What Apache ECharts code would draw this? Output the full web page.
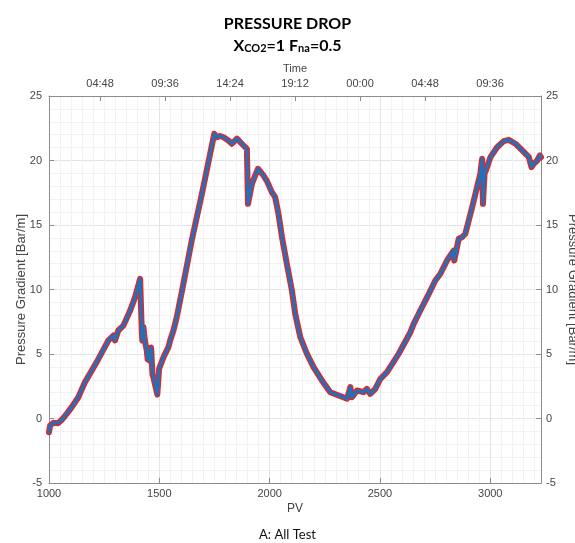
<!DOCTYPE html>
<html>
<head>
<meta charset="utf-8">
<script src="https://cdn.jsdelivr.net/npm/echarts@6/dist/echarts.min.js"></script>
<style>
  html, body { margin: 0; padding: 0; background: #ffffff; }
  #chart { width: 575px; height: 543px; }
</style>
</head>
<body>
<div id="chart"></div>
<script>
// Pore volumes injected (x) and measured pressure gradient in Bar/m (y)
const pvValues = [
  1000, 1005, 1020, 1042, 1058, 1080, 1103, 1133, 1163, 1194,
  1224, 1246, 1269, 1292, 1299, 1314, 1337, 1368, 1390, 1413,
  1416, 1419, 1421, 1423, 1428, 1432, 1436, 1443, 1447, 1451,
  1455, 1463, 1469, 1473, 1491, 1499, 1519, 1541, 1545, 1549,
  1564, 1579, 1609, 1647, 1693, 1730, 1749, 1761, 1775, 1791,
  1813, 1829, 1852, 1874, 1897, 1902, 1920, 1947, 1972, 1988,
  2010, 2025, 2040, 2056, 2078, 2101, 2116, 2139, 2169, 2199,
  2237, 2275, 2313, 2351, 2366, 2373, 2396, 2426, 2441, 2456,
  2479, 2502, 2532, 2585, 2638, 2653, 2683, 2714, 2751, 2774,
  2804, 2834, 2837, 2857, 2872, 2887, 2918, 2940, 2955, 2963,
  2967, 2974, 2983, 3001, 3031, 3061, 3084, 3114, 3145, 3175,
  3187, 3197, 3213, 3225, 3230
];
const gradientValues = [
  -1.06, -0.54, -0.33, -0.36, -0.10, 0.36, 0.88, 1.65, 2.82, 3.72,
  4.62, 5.32, 6.05, 6.43, 6.05, 6.82, 7.20, 8.37, 9.40, 10.83,
  10.95, 7.60, 6.60, 6.05, 7.10, 6.40, 5.90, 5.30, 4.60, 5.20,
  4.50, 5.50, 3.40, 3.20, 1.85, 3.85, 4.75, 5.53, 5.60, 6.05,
  6.82, 7.85, 10.44, 13.80, 17.42, 20.50, 22.07, 21.80, 21.90, 21.80,
  21.55, 21.30, 21.70, 21.30, 20.90, 16.64, 18.20, 19.36, 18.84, 18.40,
  17.55, 17.16, 15.87, 14.05, 11.99, 9.92, 8.12, 6.30, 5.02, 3.98,
  2.95, 2.04, 1.78, 1.53, 2.43, 1.65, 2.17, 2.04, 2.30, 1.91,
  2.30, 3.08, 3.59, 5.02, 6.69, 7.34, 8.37, 9.40, 10.70, 11.22,
  12.25, 13.02, 12.25, 13.93, 14.05, 14.32, 16.38, 17.93, 18.97, 20.13,
  16.64, 18.97, 19.36, 20.26, 21.03, 21.50, 21.60, 21.30, 20.78, 20.26,
  19.48, 19.74, 20.00, 20.39, 20.26
];

// Axis ticks
const pvTicks = [1000, 1500, 2000, 2500, 3000];
const gradientTicks = [-5, 0, 5, 10, 15, 20, 25];
const timeTickHours = [4.8, 9.6, 14.4, 19.2, 24, 28.8, 33.6];
const timeTickLabels = ['04:48', '09:36', '14:24', '19:12', '00:00', '04:48', '09:36'];

// Elapsed clock time (hours) spanned by the PV range
const timeStartHour = 1.03;
const timeEndHour = 37.36;

const axisGray = '#8c8c8c';
const labelGray = '#454545';
const majorGrid = '#e3e3e3';
const minorGrid = '#f2f2f2';
const axisFont = 'Liberation Sans';

const chart = echarts.init(document.getElementById('chart'), null, { renderer: 'canvas' });
const seriesData = pvValues.map((pv, i) => [pv, gradientValues[i]]);

function timeLabel(v) {
  let best = 0;
  for (let i = 1; i < timeTickHours.length; i++) {
    if (Math.abs(timeTickHours[i] - v) < Math.abs(timeTickHours[best] - v)) best = i;
  }
  return timeTickLabels[best];
}
const plainNumber = v => String(v);

const plotRect = { left: 49, right: 34, top: 96, bottom: 60, containLabel: false, outerBoundsMode: 'none' };

chart.setOption({
  animation: false,
  backgroundColor: '#ffffff',
  title: [
    {
      text: 'PRESSURE DROP',
      left: 'center',
      top: 11,
      textStyle: { fontFamily: 'Lato', fontWeight: 'bold', fontSize: 16, color: '#000' }
    },
    {
      text: '{m|X}{s|CO2}{m|=1 F}{s|na}{m|=0.5}',
      left: 'center',
      top: 29,
      textStyle: {
        rich: {
          m: { fontFamily: 'Lato', fontWeight: 'bold', fontSize: 16, color: '#000', lineHeight: 20, verticalAlign: 'bottom' },
          s: { fontFamily: 'Lato', fontWeight: 'bold', fontSize: 11, color: '#000', lineHeight: 10, verticalAlign: 'bottom' }
        }
      }
    },
    {
      text: 'A: All Test',
      left: 'center',
      top: 523,
      textStyle: { fontFamily: 'Lato', fontWeight: 'normal', fontSize: 13, color: '#111' }
    }
  ],
  grid: [
    Object.assign({}, plotRect),   // minor grid lines
    Object.assign({}, plotRect)    // data, axes and major grid lines
  ],
  xAxis: [
    {
      gridIndex: 0, type: 'value', min: 1000, max: 3230, interval: 50,
      axisLine: { show: false }, axisTick: { show: false }, axisLabel: { show: false },
      splitLine: { show: true, lineStyle: { color: minorGrid, width: 1 } }
    },
    {
      gridIndex: 1, type: 'value', position: 'bottom', min: 1000, max: 3230, interval: 500,
      name: 'PV', nameLocation: 'middle', nameGap: 20, nameMoveOverlap: false,
      nameTextStyle: { fontFamily: axisFont, fontSize: 12, color: labelGray },
      axisLine: { show: true, onZero: false, lineStyle: { color: axisGray, width: 1 } },
      axisTick: { show: true, inside: true, length: 5, lineStyle: { color: axisGray } },
      axisLabel: { fontFamily: axisFont, fontSize: 11, color: labelGray, margin: 5, showMaxLabel: false, formatter: plainNumber },
      splitLine: { show: true, lineStyle: { color: majorGrid, width: 1 } }
    },
    {
      gridIndex: 1, type: 'value', position: 'top', min: timeStartHour, max: timeEndHour,
      name: 'Time', nameLocation: 'middle', nameGap: 22, nameMoveOverlap: false,
      nameTextStyle: { fontFamily: axisFont, fontSize: 11, color: labelGray },
      axisLine: { show: true, onZero: false, lineStyle: { color: axisGray, width: 1 } },
      axisTick: { show: true, inside: true, length: 5, customValues: timeTickHours, lineStyle: { color: axisGray } },
      axisLabel: { fontFamily: axisFont, fontSize: 11, color: labelGray, margin: 7, customValues: timeTickHours, formatter: timeLabel },
      splitLine: { show: false }
    }
  ],
  yAxis: [
    {
      gridIndex: 0, type: 'value', min: -5, max: 25, interval: 1,
      axisLine: { show: false }, axisTick: { show: false }, axisLabel: { show: false },
      splitLine: { show: true, lineStyle: { color: minorGrid, width: 1 } }
    },
    {
      gridIndex: 1, type: 'value', position: 'left', min: -5, max: 25, interval: 5,
      name: 'Pressure Gradient [Bar/m]', nameLocation: 'middle', nameGap: 21, nameRotate: 90, nameMoveOverlap: false,
      nameTextStyle: { fontFamily: axisFont, fontSize: 13, color: labelGray },
      axisLine: { show: true, onZero: false, lineStyle: { color: axisGray, width: 1 } },
      axisTick: { show: true, inside: true, length: 5, lineStyle: { color: axisGray } },
      axisLabel: { fontFamily: axisFont, fontSize: 11, color: labelGray, margin: 7, customValues: gradientTicks, formatter: plainNumber },
      splitLine: { show: true, lineStyle: { color: majorGrid, width: 1 } }
    },
    {
      gridIndex: 1, type: 'value', position: 'right', min: -5, max: 25, interval: 5,
      name: 'Pressure Gradient [Bar/m]', nameLocation: 'middle', nameGap: 25, nameRotate: -90, nameMoveOverlap: false,
      nameTextStyle: { fontFamily: axisFont, fontSize: 13, color: labelGray },
      axisLine: { show: true, onZero: false, lineStyle: { color: axisGray, width: 1 } },
      axisTick: { show: true, inside: true, length: 5, lineStyle: { color: axisGray } },
      axisLabel: { fontFamily: axisFont, fontSize: 11, color: labelGray, margin: 5, customValues: gradientTicks, formatter: plainNumber },
      splitLine: { show: false }
    }
  ],
  series: [
    {
      name: 'markers', type: 'line', xAxisIndex: 1, yAxisIndex: 1,
      data: seriesData, showSymbol: false, smooth: false,
      lineStyle: { color: '#e2262b', width: 6, join: 'round', cap: 'round' },
      z: 2
    },
    {
      name: 'trace', type: 'line', xAxisIndex: 1, yAxisIndex: 1,
      data: seriesData, showSymbol: false, smooth: false,
      lineStyle: { color: '#2170b8', width: 3.2, join: 'round', cap: 'round' },
      z: 3
    }
  ]
});
</script>
</body>
</html>
